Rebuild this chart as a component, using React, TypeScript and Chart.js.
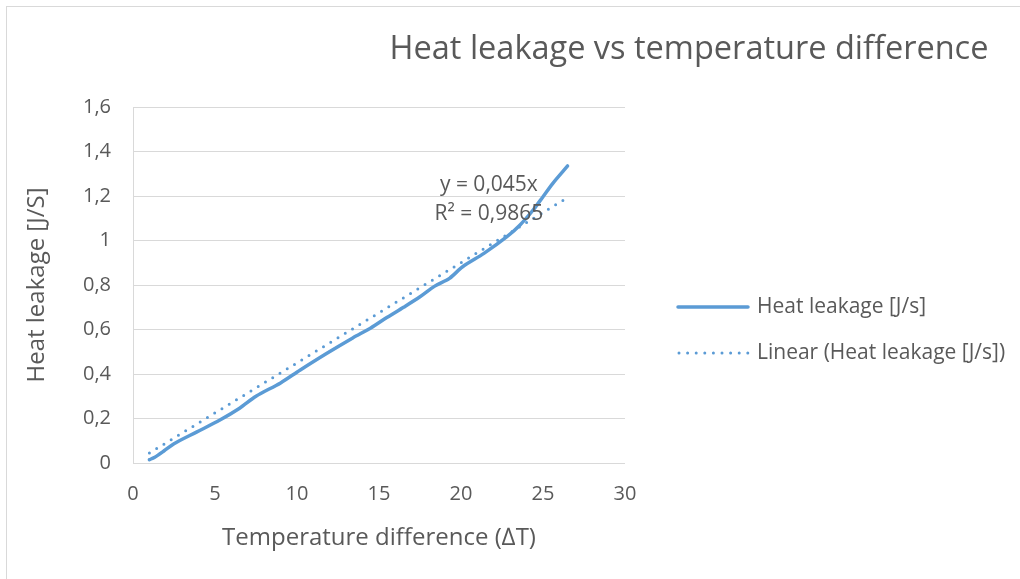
import React, { useEffect, useRef } from "react";
import { Chart, registerables } from "chart.js";

Chart.register(...registerables);

const chartTitle = "Heat leakage vs temperature difference";
const xAxisTitle = "Temperature difference (\u2206T)";
const yAxisTitle = "Heat leakage [J/S]";
const seriesName = "Heat leakage [J/s]";
const trendName = "Linear (Heat leakage [J/s])";
const trendEquation = "y = 0,045x";
const trendR2 = "R\u00b2 = 0,9865";

const tempDiff = [1, 1.3, 1.9, 2.5, 3.9, 5.3, 6.5, 7.5, 9.0, 10.2, 11.8, 13.4, 14.5, 15.5, 16.5, 17.5, 18.4, 19.3, 20.1, 21.4, 22.8, 23.6, 24.4, 25.0, 25.6, 26.5];
const heatLeak = [0.015, 0.025, 0.055, 0.087, 0.14, 0.193, 0.246, 0.3, 0.36, 0.418, 0.492, 0.562, 0.607, 0.655, 0.7, 0.747, 0.795, 0.83, 0.882, 0.942, 1.017, 1.07, 1.137, 1.197, 1.257, 1.335];

const trendX = [1, 26.5];
const trendY = [0.045, 1.193];

const yTicks = [0, 0.2, 0.4, 0.6, 0.8, 1, 1.2, 1.4, 1.6];
const xTicks = [0, 5, 10, 15, 20, 25, 30];

const BLUE = "#5B9BD5";
const TEXT = "#595959";
const GRID = "#D9D9D9";
const FONT = "'Open Sans', sans-serif";

const fmt = (v: number) => String(Number(v.toFixed(1))).replace(".", ",");

const overlayPlugin = {
  id: "overlay",
  afterDraw(chart: any) {
    const ctx = chart.ctx;
    const xs = chart.scales.x;
    const ys = chart.scales.y;
    ctx.save();
    // Title
    ctx.fillStyle = TEXT;
    ctx.font = `32.5px ${FONT}`;
    ctx.textAlign = "center";
    ctx.textBaseline = "middle";
    ctx.fillText(chartTitle, 682, 43);

    // Trendline label
    ctx.font = `21px ${FONT}`;
    ctx.textAlign = "center";
    ctx.fillText(trendEquation, xs.getPixelForValue(21.7), ys.getPixelForValue(1.25));
    ctx.fillText(trendR2, xs.getPixelForValue(21.7), ys.getPixelForValue(1.12));

    // Legend
    const lx0 = 671, lx1 = 741, tx = 750;
    const r1 = 300, r2 = 346;
    ctx.strokeStyle = BLUE;
    ctx.lineWidth = 3.5;
    ctx.lineCap = "round";
    ctx.setLineDash([]);
    ctx.beginPath();
    ctx.moveTo(lx0, r1);
    ctx.lineTo(lx1, r1);
    ctx.stroke();
    ctx.lineWidth = 3;
    ctx.setLineDash([0, 8.6]);
    ctx.beginPath();
    ctx.moveTo(lx0 + 1, r2);
    ctx.lineTo(lx1, r2);
    ctx.stroke();
    ctx.setLineDash([]);
    ctx.fillStyle = TEXT;
    ctx.font = `21px ${FONT}`;
    ctx.textAlign = "left";
    ctx.textBaseline = "middle";
    ctx.fillText(seriesName, tx, r1);
    ctx.fillText(trendName, tx, r2);
    ctx.restore();
  },
};

export default function App() {
  const ref = useRef<HTMLCanvasElement | null>(null);
  useEffect(() => {
    if (!ref.current) return;
    const chart = new Chart(ref.current, {
      type: "scatter",
      data: {
        datasets: [
          {
            label: seriesName,
            data: tempDiff.map((x, i) => ({ x, y: heatLeak[i] })),
            showLine: true,
            borderColor: BLUE,
            backgroundColor: BLUE,
            borderWidth: 3.5,
            pointRadius: 0,
            tension: 0.3,
            borderCapStyle: "round",
            borderJoinStyle: "round",
          },
          {
            label: trendName,
            data: trendX.map((x, i) => ({ x, y: trendY[i] })),
            showLine: true,
            borderColor: BLUE,
            backgroundColor: BLUE,
            borderWidth: 3,
            pointRadius: 0,
            borderDash: [0, 8.5],
            borderCapStyle: "round",
          },
        ],
      },
      options: {
        animation: false,
        responsive: false,
        layout: { padding: { top: 100, right: 395, left: 0, bottom: 0 } },
        plugins: {
          legend: { display: false },
          title: { display: false },
          tooltip: { enabled: false },
        },
        scales: {
          x: {
            type: "linear",
            min: 0,
            max: 30,
            afterBuildTicks: (s: any) => {
              s.ticks = xTicks.map((v) => ({ value: v }));
            },
            afterFit: (s: any) => {
              s.height = 116;
            },
            grid: { display: false, drawTicks: false },
            border: { display: false },
            ticks: {
              color: TEXT,
              font: { family: FONT, size: 20 },
              padding: 19,
              maxRotation: 0,
            },
            title: {
              display: true,
              text: xAxisTitle,
              color: TEXT,
              font: { family: FONT, size: 24 },
              padding: { top: 0, bottom: 26 },
            },
          },
          y: {
            type: "linear",
            min: 0,
            max: 1.6,
            afterBuildTicks: (s: any) => {
              s.ticks = yTicks.map((v) => ({ value: v }));
            },
            afterFit: (s: any) => {
              s.width = 126;
            },
            grid: { color: GRID, lineWidth: 1, drawTicks: false },
            border: { display: true, color: GRID, width: 1 },
            ticks: {
              color: TEXT,
              font: { family: FONT, size: 20 },
              padding: 22,
              callback: (v: any) => fmt(Number(v)),
            },
            title: {
              display: true,
              text: yAxisTitle,
              color: TEXT,
              font: { family: FONT, size: 24 },
              padding: { top: 16, bottom: 0 },
            },
          },
        },
      },
      plugins: [overlayPlugin],
    } as any);
    return () => chart.destroy();
  }, []);

  return (
    <div
      style={{
        position: "absolute",
        left: 6,
        top: 6,
        width: 1014,
        height: 573,
        borderTop: "1px solid #D9D9D9",
        borderLeft: "1px solid #D9D9D9",
        background: "#fff",
      }}
    >
      <canvas ref={ref} width={1013} height={572} style={{ display: "block" }} />
    </div>
  );
}
